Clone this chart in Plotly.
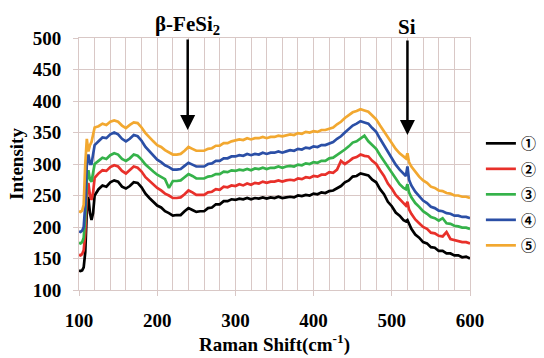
import plotly.graph_objects as go

# Raman shift (cm-1)
x_shift = [100, 102, 104, 106, 108, 110, 112, 114, 116, 118, 120,
           125, 130, 135, 140, 145, 150, 155, 160, 165, 170, 175, 180, 185, 190, 195,
           200, 205, 210, 215, 220, 225, 230, 235, 240, 245, 250, 255, 260, 265, 270,
           275, 280, 285, 290, 295, 300, 305, 310, 315, 320, 325, 330, 335, 340, 345,
           350, 355, 360, 365, 370, 375, 380, 385, 390, 395, 400, 405, 410, 415, 420,
           425, 430, 435, 440, 445, 450, 455, 460, 465, 470, 475, 480, 485, 490, 495,
           500, 505, 510, 515, 518, 520, 522, 525, 530, 535, 540, 545, 550, 555, 560,
           565, 570, 575, 580, 585, 590, 595, 600]

s1 = [131, 130, 131, 136, 160, 225, 248, 222, 211, 222, 250,
      260, 266, 264, 271, 274, 272, 264, 261, 265, 271, 270, 263, 253, 246, 240,
      234, 231, 225, 222, 218, 219, 219, 225, 230, 227, 224, 225, 225, 230, 231,
      236, 236, 241, 241, 244, 243, 245, 244, 246, 244, 246, 245, 247, 245, 247,
      246, 248, 246, 247, 248, 247, 250, 249, 251, 250, 253, 252, 255, 254, 257,
      258, 262, 265, 271, 274, 280, 281, 285, 283, 282, 275, 271, 260, 252, 240,
      233, 223, 218, 211, 209, 211, 204, 197, 188, 183, 176, 174, 168, 167, 162,
      162, 158, 158, 155, 155, 152, 153, 150]

s2 = [156, 155, 157, 163, 190, 250, 270, 250, 243, 255, 278,
      285, 290, 289, 295, 298, 296, 289, 285, 290, 296, 294, 288, 279, 273, 267,
      262, 258, 253, 250, 246, 246, 247, 252, 258, 255, 251, 251, 251, 255, 256,
      260, 259, 264, 263, 266, 265, 268, 266, 269, 267, 270, 269, 272, 270, 272,
      272, 274, 272, 274, 275, 274, 277, 276, 279, 278, 281, 280, 283, 283, 287,
      286, 291, 305, 300, 304, 309, 311, 315, 313, 312, 305, 300, 290, 281, 269,
      261, 251, 244, 237, 234, 240, 228, 221, 212, 206, 200, 197, 191, 190, 186,
      185, 192, 181, 179, 178, 176, 176, 174]

s3 = [175, 174, 176, 183, 215, 275, 290, 275, 272, 285, 300,
      305, 310, 308, 314, 317, 315, 308, 305, 309, 315, 313, 307, 299, 293, 288,
      283, 280, 276, 262, 273, 273, 274, 279, 284, 281, 277, 277, 277, 280, 281,
      284, 284, 288, 287, 290, 289, 291, 290, 292, 290, 293, 292, 294, 292, 294,
      294, 296, 294, 296, 297, 296, 299, 298, 301, 300, 303, 302, 305, 305, 309,
      310, 314, 318, 323, 328, 334, 336, 340, 345, 336, 330, 324, 314, 305, 294,
      285, 276, 268, 262, 260, 268, 255, 247, 238, 232, 225, 221, 216, 214, 210,
      214, 206, 205, 202, 201, 199, 199, 197]

s4 = [193, 192, 194, 200, 235, 300, 315, 300, 300, 315, 330,
      336, 342, 341, 347, 350, 347, 340, 336, 340, 346, 344, 337, 327, 320, 313,
      307, 303, 298, 295, 291, 291, 292, 297, 302, 299, 296, 296, 296, 300, 301,
      305, 305, 309, 309, 312, 312, 314, 313, 316, 314, 316, 315, 318, 316, 318,
      318, 320, 318, 320, 322, 321, 324, 323, 326, 325, 328, 327, 330, 330, 333,
      335, 340, 344, 350, 355, 361, 364, 368, 366, 364, 357, 351, 340, 330, 318,
      309, 299, 291, 284, 281, 296, 275, 266, 256, 249, 242, 238, 232, 230, 226,
      225, 222, 221, 218, 218, 216, 216, 214]

s5 = [225, 224, 226, 235, 300, 340, 320, 330, 335, 350, 358,
      360, 364, 362, 367, 369, 367, 361, 357, 362, 366, 365, 358, 349, 342, 336,
      330, 327, 322, 318, 315, 315, 316, 321, 327, 324, 321, 321, 321, 324, 325,
      329, 329, 333, 333, 336, 337, 339, 338, 341, 339, 341, 341, 343, 341, 343,
      343, 345, 344, 346, 347, 346, 349, 348, 351, 350, 352, 351, 354, 354, 356,
      358, 363, 367, 373, 377, 382, 384, 387, 385, 383, 377, 371, 361, 352, 341,
      333, 324, 317, 311, 309, 317, 303, 296, 287, 280, 274, 270, 264, 262, 258,
      257, 254, 253, 250, 250, 248, 248, 246]

series_names = ["①", "②", "③", "④", "⑤"]
series_values = [s1, s2, s3, s4, s5]
series_colors = ["#000000", "#e8302a", "#35b24a", "#2b4fa6", "#f2a830"]

x_ticks = [100, 200, 300, 400, 500, 600]
y_ticks = [100, 150, 200, 250, 300, 350, 400, 450, 500]

grid_color = "#d9c8c6"
serif = "Liberation Serif"

fig = go.Figure()
for name, vals, col in zip(series_names, series_values, series_colors):
    fig.add_trace(go.Scatter(x=x_shift, y=vals, mode="lines", name=name,
                             legendgroup=name,
                             line=dict(color=col, width=2.7)))

fig.update_layout(
    width=544, height=358,
    margin=dict(l=79, r=74, t=38, b=68),
    paper_bgcolor="white", plot_bgcolor="white",
    font=dict(family=serif, color="black"),
    legend=dict(xref="container", yref="container",
                x=0.884, y=0.645, xanchor="left", yanchor="top",
                font=dict(family="Noto Sans CJK JP", size=15, color="black", weight="bold"),
                tracegroupgap=3, itemwidth=30, bgcolor="rgba(0,0,0,0)"),
    xaxis=dict(range=[100, 600], tickvals=x_ticks, automargin=False,
               ticktext=["<b>%d</b>" % v for v in x_ticks],
               showgrid=True, gridcolor=grid_color, gridwidth=1,
               minor=dict(dtick=20, tick0=100, showgrid=True, gridcolor=grid_color, gridwidth=1),
               ticks="outside", ticklen=5, tickcolor=grid_color, ticklabelstandoff=8,
               showline=True, linecolor=grid_color, mirror=True, zeroline=False,
               tickfont=dict(family=serif, size=19, color="black"),
               title=dict(text="<b>Raman Shift(cm<sup>-1</sup>)</b>",
                          font=dict(family=serif, size=19, color="black"), standoff=3)),
    yaxis=dict(range=[100, 500], tickvals=y_ticks, automargin=False,
               ticktext=["<b>%d</b>" % v for v in y_ticks],
               showgrid=True, gridcolor=grid_color, gridwidth=1,
               ticks="outside", ticklen=5, tickcolor=grid_color, ticklabelstandoff=8,
               showline=True, linecolor=grid_color, mirror=True, zeroline=False,
               tickfont=dict(family=serif, size=19, color="black"),
               title=dict(text="<b>Intensity</b>",
                          font=dict(family=serif, size=19, color="black"), standoff=4)),
)

fig.add_annotation(x=239, y=354, xref="x", yref="y", ax=0, ay=-105,
                   text="<b>β-FeSi<sub>2</sub></b>", showarrow=True,
                   arrowhead=2, arrowsize=1.2, arrowwidth=2.5, arrowcolor="black",
                   font=dict(family=serif, size=21, color="black"))
fig.add_annotation(x=520, y=346, xref="x", yref="y", ax=0, ay=-108,
                   text="<b>Si</b>", showarrow=True,
                   arrowhead=2, arrowsize=1.2, arrowwidth=2.5, arrowcolor="black",
                   font=dict(family=serif, size=21, color="black"))

fig.write_html("out.html")
